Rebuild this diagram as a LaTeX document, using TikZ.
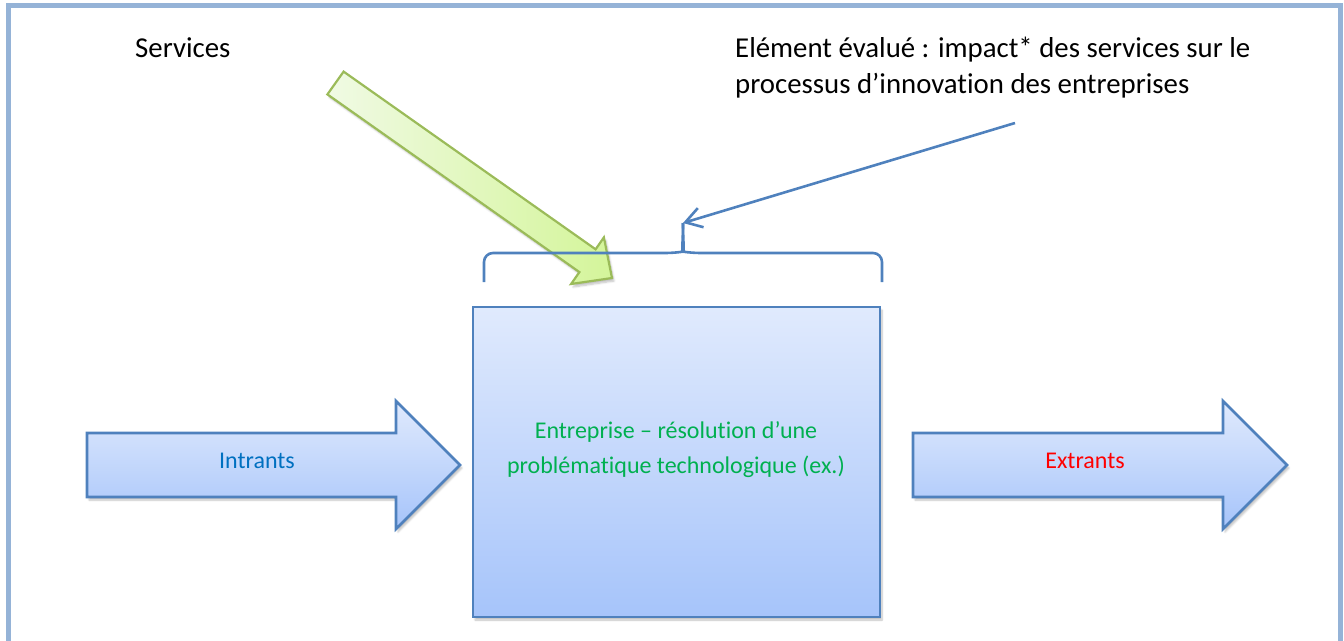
\documentclass[tikz,border=0pt]{standalone}
\usepackage{fontspec}
\setmainfont{Carlito}[Ligatures=NoCommon]
\usetikzlibrary{arrows.meta,shadows.blur}

\definecolor{cadre}{HTML}{95B3D7}
\definecolor{bleu}{HTML}{4F81BD}
\definecolor{haut}{HTML}{E0EAFD}
\definecolor{bas}{HTML}{A6C4FA}
\definecolor{olive}{HTML}{9BBB59}
\definecolor{vertclair}{HTML}{F0FAE4}
\definecolor{vertfonce}{HTML}{D4F59A}
\definecolor{vert}{HTML}{00B050}
\definecolor{intrantcol}{HTML}{0070C0}

\tikzset{
	ombre/.style={blur shadow={shadow xshift=2pt,shadow yshift=-3pt,shadow blur steps=6,shadow opacity=25}},
	bloc/.style={draw=bleu,line width=2.6,top color=haut,bottom color=bas,ombre},
	grosse fleche/.style={draw=olive,line width=2.2,left color=vertclair,right color=vertfonce,ombre,line join=miter},
	accolade/.style={draw=bleu,line width=2.6},
	lien/.style={draw=bleu,line width=2.6,-{Straight Barb[length=16pt,width=20pt]}},
	titre/.style={font=\fontsize{28.8}{36}\selectfont,inner sep=0pt}
}

\begin{document}
\begin{tikzpicture}[x=1pt,y=-1pt]
	\useasboundingbox (0,0) rectangle (1344,640);
	\draw[cadre,line width=5] (8.5,5.5) rectangle (1340.5,680);

	% titres
	\node[titre,anchor=base west] (services) at (135,57) {Services};
	\node[titre,anchor=base west,align=left] (evalue) at (735,93)
		{Elément évalué : impact* des services sur le\\processus d’innovation des entreprises};

	% entreprise
	\node[bloc,minimum width=407,minimum height=310,inner sep=0pt] (entreprise) at (676.5,462) {};
	\node[text=vert,align=center,font=\fontsize{24}{35}\selectfont] (probleme) at (676,450)
		{Entreprise – résolution d’une\\problématique technologique (ex.)};

	% intrants et extrants
	\draw[bloc] (87,433) -- (396,433) -- (396,401) -- (460,465) -- (396,529) -- (396,497) -- (87,497) -- cycle;
	\node[text=intrantcol,font=\fontsize{24}{29}\selectfont] (intrants) at (257,461) {Intrants};
	\draw[bloc] (913,433) -- (1223,433) -- (1223,401) -- (1287,465) -- (1223,529) -- (1223,497) -- (913,497) -- cycle;
	\node[text=red,font=\fontsize{24}{29}\selectfont] (extrants) at (1085,461) {Extrants};

	% services
	\draw[grosse fleche] (343.6,71.6) -- (595.6,249.3) -- (603.9,237.4) -- (612,278)
		-- (571.1,284.0) -- (579.4,272.1) -- (327.4,94.4) -- cycle;

	% accolade
	\coordinate (accolade-pointe) at (683,223);
	\draw[accolade,rounded corners=9] (484,282) -- (484,253) -- (675,253)
		.. controls (681,252) and (683,246) .. (accolade-pointe);
	\draw[accolade,rounded corners=9] (accolade-pointe) .. controls (683,246) and (685,252) .. (691,253)
		-- (882,253) -- (882,282);

	\coordinate (evalue-pied) at (1015,123);
	\draw[lien] (evalue-pied) -- (accolade-pointe);
\end{tikzpicture}
\end{document}
